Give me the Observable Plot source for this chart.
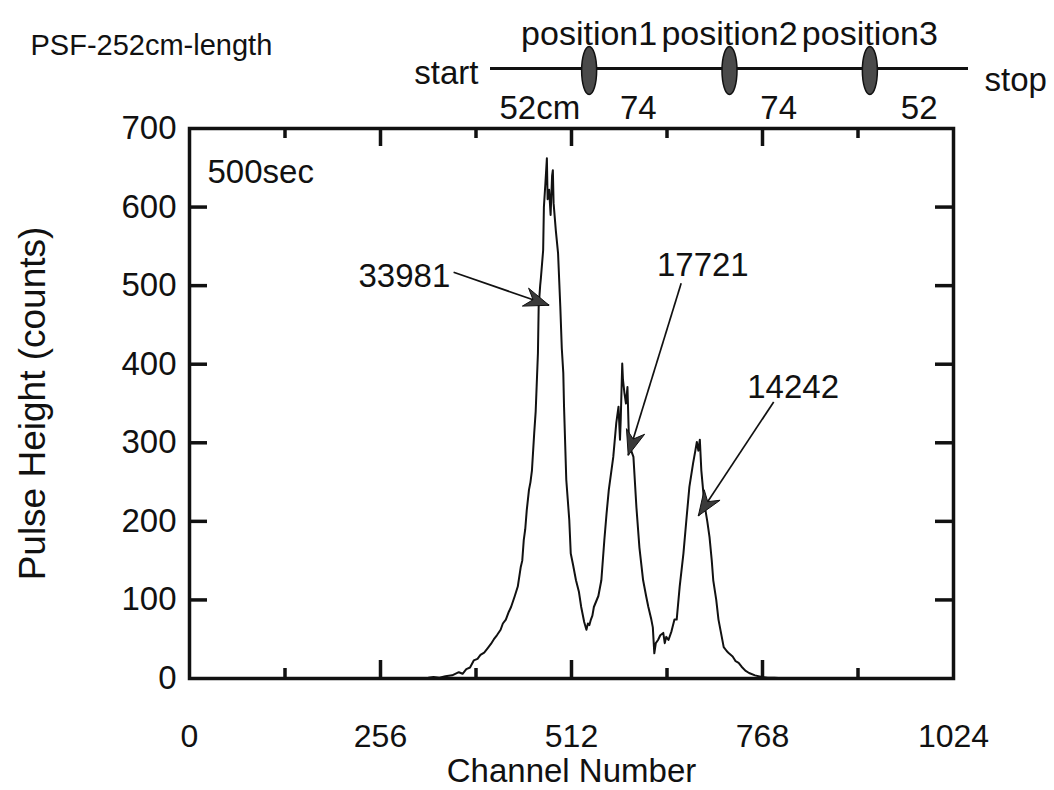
<!DOCTYPE html>
<html><head><meta charset="utf-8">
<script src="https://cdn.jsdelivr.net/npm/d3@7"></script>
<script src="https://cdn.jsdelivr.net/npm/@observablehq/plot@0.6"></script>
<style>
body{margin:0;background:#fff;}
#wrap{position:relative;width:1054px;height:790px;}
#wrap > svg{position:absolute;left:0;top:0;}
</style></head><body><div id="wrap"></div>
<script>
// ---- spectrum (channel number vs counts) ----
const channel = [0,100,200,300,320,327,335,343,352,361,366,371,376,381,386,390,395,400,404,408,412,417,420,424,428,431,436,440,444,446,448,450,452,455,457,459,462,464,467,468,470,471,474,475,477,479,480,482,484,486,487,488,491,494,497,499,501,502,505,509,511,514,518,522,525,529,532,534,536,538,540,542,548,552,556,559,562,568,572,575,577,578,580,581,583,585,587,589,592,595,599,603,608,612,615,619,621,623,625,628,631,635,637,639,642,646,650,653,657,662,666,670,675,678,680,682,684,686,690,694,697,700,702,706,709,712,716,720,723,728,732,736,740,745,750,758,767,775,784,800,900,1024];
const counts  = [0,0,0,0,1,2,1,3,4,8,6,12,14,23,25,30,33,39,44,50,55,62,70,75,85,91,105,117,142,150,176,190,214,240,250,265,312,340,414,473,500,510,545,600,630,662,610,622,590,640,647,605,570,541,473,420,389,346,253,202,159,145,125,110,91,72,62,70,68,75,80,91,105,125,176,210,240,282,325,346,304,330,401,380,363,350,371,304,290,282,218,167,125,105,91,75,65,32,45,49,55,58,45,53,49,60,75,75,117,159,202,244,274,290,301,290,304,265,223,200,180,150,125,100,75,60,40,35,32,28,22,20,15,10,7,4,2,1,1,0,0,0];

// ---- axes ----
const xMajor = [0,256,512,768,1024];
const xMinor = [128,384,640,896];
const yLabels = [0,100,200,300,400,500,600,700];
const yInner = [100,200,300,400,500,600];

// ---- annotations (peak areas) ----
const annLabel = ["33981","17721","14242"];
const annTextX = [288,688,809];
const annTextY = [512,526,370];
const arrowFromX = [354,659,783];
const arrowFromY = [517,503,352];
const arrowToX = [482,588,682];
const arrowToY = [475,284,207];

// ---- source positions diagram (cm) ----
const segLengths = [52,74,74,52];
const segLabels = ["52cm","74","74","52"];
const posLabels = ["position1","position2","position3"];

const FONT = '"Liberation Sans", Arial, Helvetica, sans-serif';
const W = 1054, H = 790, ML = 189, MR = 101, MT = 128, MB = 112;
const plotW = W - ML - MR, plotH = H - MT - MB;
const kx = plotW / 1024, ky = plotH / 700;

const spectrum = channel.map((c, i) => ({channel: c, count: counts[i]}));
const annots = annLabel.map((l, i) => ({
  label: l, lx: annTextX[i], ly: annTextY[i],
  sx: arrowFromX[i], sy: arrowFromY[i], tx: arrowToX[i], ty: arrowToY[i]
}));

function headSymbol(angle) {
  const ux = Math.cos(angle), uy = Math.sin(angle), px = -uy, py = ux;
  const L = 25, Wd = 9.5;
  return {draw(ctx) {
    ctx.moveTo(0, 0);
    ctx.lineTo(-ux * L + px * Wd, -uy * L + py * Wd);
    ctx.lineTo(-ux * L * 0.68, -uy * L * 0.68);
    ctx.lineTo(-ux * L - px * Wd, -uy * L - py * Wd);
    ctx.closePath();
  }};
}
const heads = annots.map(a => {
  const ang = Math.atan2(-(a.ty - a.sy) * ky, (a.tx - a.sx) * kx);
  return Plot.dot([a], {x: "tx", y: "ty", symbol: headSymbol(ang), fill: "#3a3a3a", stroke: "#111", strokeWidth: 1});
});

const main = Plot.plot({
  width: W, height: H, marginLeft: ML, marginRight: MR, marginTop: MT, marginBottom: MB,
  style: {fontFamily: FONT, fontSize: "33px", color: "#111", background: "white", overflow: "visible"},
  x: {domain: [0, 1024]},
  y: {domain: [0, 700]},
  marks: [
    Plot.axisX(xMajor, {tickSize: 0, tickPadding: 46, label: null, fontSize: 32, tickFormat: d => String(d)}),
    Plot.axisY(yLabels, {tickSize: 0, tickPadding: 13, label: null, fontSize: 33, tickFormat: d => String(d)}),
    Plot.ruleX(xMajor.slice(1, -1), {insetTop: plotH - 18, strokeWidth: 3.5}),
    Plot.ruleX(xMajor.slice(1, -1), {insetBottom: plotH - 18, strokeWidth: 3.5}),
    Plot.ruleX(xMinor, {insetTop: plotH - 10, strokeWidth: 3.5}),
    Plot.ruleX(xMinor, {insetBottom: plotH - 10, strokeWidth: 3.5}),
    Plot.ruleY(yInner, {insetRight: plotW - 18, strokeWidth: 3.5}),
    Plot.ruleY(yInner, {insetLeft: plotW - 18, strokeWidth: 3.5}),
    Plot.line(spectrum, {x: "channel", y: "count", stroke: "#111", strokeWidth: 2}),
    Plot.frame({stroke: "#111", strokeWidth: 3.5}),
    Plot.link(annots, {x1: "sx", y1: "sy", x2: "tx", y2: "ty", stroke: "#111", strokeWidth: 1.7}),
    ...heads,
    Plot.text(annots, {x: "lx", y: "ly", text: "label", fontSize: 33, fill: "#111"}),
    Plot.text(["500sec"], {frameAnchor: "top-left", dx: 18, dy: 31, lineAnchor: "top", textAnchor: "start", fontSize: 33, fill: "#111"}),
    Plot.text(["Channel Number"], {frameAnchor: "bottom", dy: 103, fontSize: 33, fill: "#111"}),
    Plot.text(["Pulse Height (counts)"], {frameAnchor: "left", dx: -156, rotate: -90, textAnchor: "middle", fontSize: 37, fill: "#111"})
  ]
});

// ---- top diagram ----
const positions = d3.cumsum(segLengths).slice(0, 3);
const total = d3.sum(segLengths);
const starts = [0, ...d3.cumsum(segLengths).slice(0, 3)];
const mids = segLengths.map((l, i) => starts[i] + l / 2);
const ellipse = {draw(ctx) {
  const rx = 7.5, ry = 24, k = 0.5523;
  ctx.moveTo(0, -ry);
  ctx.bezierCurveTo(k * rx, -ry, rx, -k * ry, rx, 0);
  ctx.bezierCurveTo(rx, k * ry, k * rx, ry, 0, ry);
  ctx.bezierCurveTo(-k * rx, ry, -rx, k * ry, -rx, 0);
  ctx.bezierCurveTo(-rx, -k * ry, -k * rx, -ry, 0, -ry);
  ctx.closePath();
}};
const segData = segLabels.map((l, i) => ({label: l, x: mids[i]}));
const diag = Plot.plot({
  width: W, height: 128, marginLeft: 490, marginRight: 86, marginTop: 8, marginBottom: 0,
  x: {domain: [0, total], axis: null},
  y: {domain: [-1, 1], axis: null},
  style: {fontFamily: FONT, fontSize: "33px", color: "#111", background: "transparent", overflow: "visible"},
  marks: [
    Plot.ruleY([0], {x1: 0, x2: total, stroke: "#111", strokeWidth: 3}),
    Plot.dot(positions, {x: d => d, y: 0, dy: 2, symbol: ellipse, fill: "#4a4a4a", stroke: "#111", strokeWidth: 1.5}),
    Plot.text(posLabels, {x: (d, i) => positions[i], y: 0, dy: -34, text: d => d, fontSize: 34, fill: "#111"}),
    Plot.text(["start"], {x: 0, y: 0, dx: -12, dy: 5, textAnchor: "end", fill: "#111"}),
    Plot.text(["stop"], {x: total, y: 0, dx: 16, dy: 12, textAnchor: "start", fill: "#111"}),
    Plot.text(segData.filter((d, i) => i === 0 || i === 3), {x: "x", y: 0, dy: 40, text: "label", fill: "#111"}),
    Plot.text(segData.filter((d, i) => i === 1 || i === 2), {x: "x", y: 0, dx: -21, dy: 40, text: "label", fill: "#111"}),
    Plot.text(["PSF-252cm-length"], {x: 0, y: 0, dx: -460, dy: -23, textAnchor: "start", fontSize: 29, fill: "#111"})
  ]
});

const wrap = document.getElementById("wrap");
wrap.appendChild(main);
wrap.appendChild(diag);
</script>
</body></html>
